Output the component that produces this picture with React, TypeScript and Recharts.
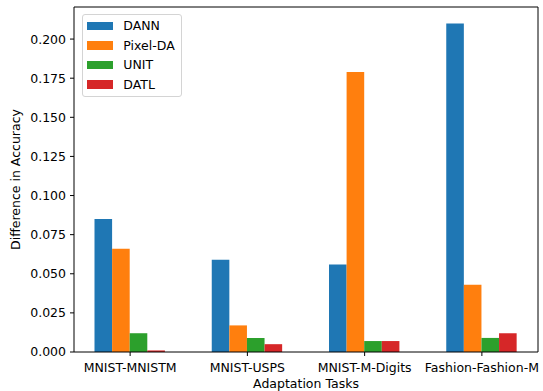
import { BarChart, Bar, XAxis, YAxis, Legend } from 'recharts'

const FONT = '"DejaVu Sans", sans-serif'

const tasks = ['MNIST-MNISTM', 'MNIST-USPS', 'MNIST-M-Digits', 'Fashion-Fashion-M']
const dann = [0.085, 0.059, 0.056, 0.21]
const pixelDa = [0.066, 0.017, 0.179, 0.043]
const unit = [0.012, 0.009, 0.007, 0.009]
const datl = [0.001, 0.005, 0.007, 0.012]
const yTicks = [0, 0.025, 0.05, 0.075, 0.1, 0.125, 0.15, 0.175, 0.2]

const methods = [
  { name: 'DANN', values: dann, color: '#1f77b4' },
  { name: 'Pixel-DA', values: pixelDa, color: '#ff7f0e' },
  { name: 'UNIT', values: unit, color: '#2ca02c' },
  { name: 'DATL', values: datl, color: '#d62728' },
]

const data = tasks.map((task, i) => {
  const row: Record<string, string | number> = { task }
  methods.forEach((m) => {
    row[m.name] = m.values[i]
  })
  return row
})

document.body.style.margin = '0'

// legend keeps the series order (recharts would sort it by name)
function LegendBox() {
  return (
    <div
      style={{
        boxSizing: 'border-box',
        width: 100,
        border: '1px solid #d4d4d4',
        borderRadius: 3,
        background: 'rgba(255,255,255,0.8)',
        padding: '1px 0 2px 4px',
        fontFamily: FONT,
        fontSize: 12.5,
        color: '#000',
      }}
    >
      {methods.map((m) => (
        <div
          key={m.name}
          style={{ display: 'flex', alignItems: 'center', height: 19.6 }}
        >
          <span
            style={{
              display: 'inline-block',
              width: 26,
              height: 8.5,
              background: m.color,
              marginRight: 10.3,
            }}
          />
          <span>{m.name}</span>
        </div>
      ))}
    </div>
  )
}

function YTitle({ viewBox }: any) {
  const cy = viewBox.y + viewBox.height / 2
  return (
    <text
      x={19.5}
      y={cy}
      transform={`rotate(-90 19.5 ${cy})`}
      textAnchor="middle"
      fontFamily={FONT}
      fontSize={12.5}
      fill="#000"
    >
      Difference in Accuracy
    </text>
  )
}

const tickStyle = { fontSize: 12.5, fill: '#000', fontFamily: FONT }
const spine = { stroke: '#000', strokeWidth: 1 }

export default function App() {
  return (
    <div style={{ width: 543, height: 391, background: '#fff' }}>
      <BarChart
        width={543}
        height={391}
        data={data}
        margin={{ top: 6, right: 4, left: 0, bottom: 0 }}
        barGap={0}
        barSize={17.6}
      >
        <XAxis
          dataKey="task"
          height={39}
          padding={{ left: -2.5, right: -2.5 }}
          tick={tickStyle}
          tickSize={4}
          tickMargin={7}
          axisLine={spine}
          tickLine={spine}
          interval={0}
          label={{
            value: 'Adaptation Tasks',
            position: 'insideBottom',
            offset: 3,
            fontSize: 12.5,
            fill: '#000',
            fontFamily: FONT,
          }}
        />
        {/* top and right spines */}
        <XAxis
          xAxisId="top"
          dataKey="task"
          orientation="top"
          height={1}
          tick={false}
          tickLine={false}
          axisLine={spine}
        />
        <YAxis
          width={74}
          domain={[0, 0.2205]}
          ticks={yTicks}
          tickFormatter={(v: number) => v.toFixed(3)}
          tick={tickStyle}
          tickSize={4}
          tickMargin={4}
          axisLine={spine}
          tickLine={spine}
          label={<YTitle />}
        />
        <YAxis
          yAxisId="right"
          orientation="right"
          width={1}
          domain={[0, 0.2205]}
          tick={false}
          tickLine={false}
          axisLine={spine}
        />
        <Legend
          layout="vertical"
          align="center"
          verticalAlign="middle"
          content={<LegendBox />}
          wrapperStyle={{ left: 82, top: 14, width: 100 }}
        />
        {methods.map((m) => (
          <Bar
            key={m.name}
            dataKey={m.name}
            name={m.name}
            fill={m.color}
            isAnimationActive={false}
          />
        ))}
      </BarChart>
    </div>
  )
}
